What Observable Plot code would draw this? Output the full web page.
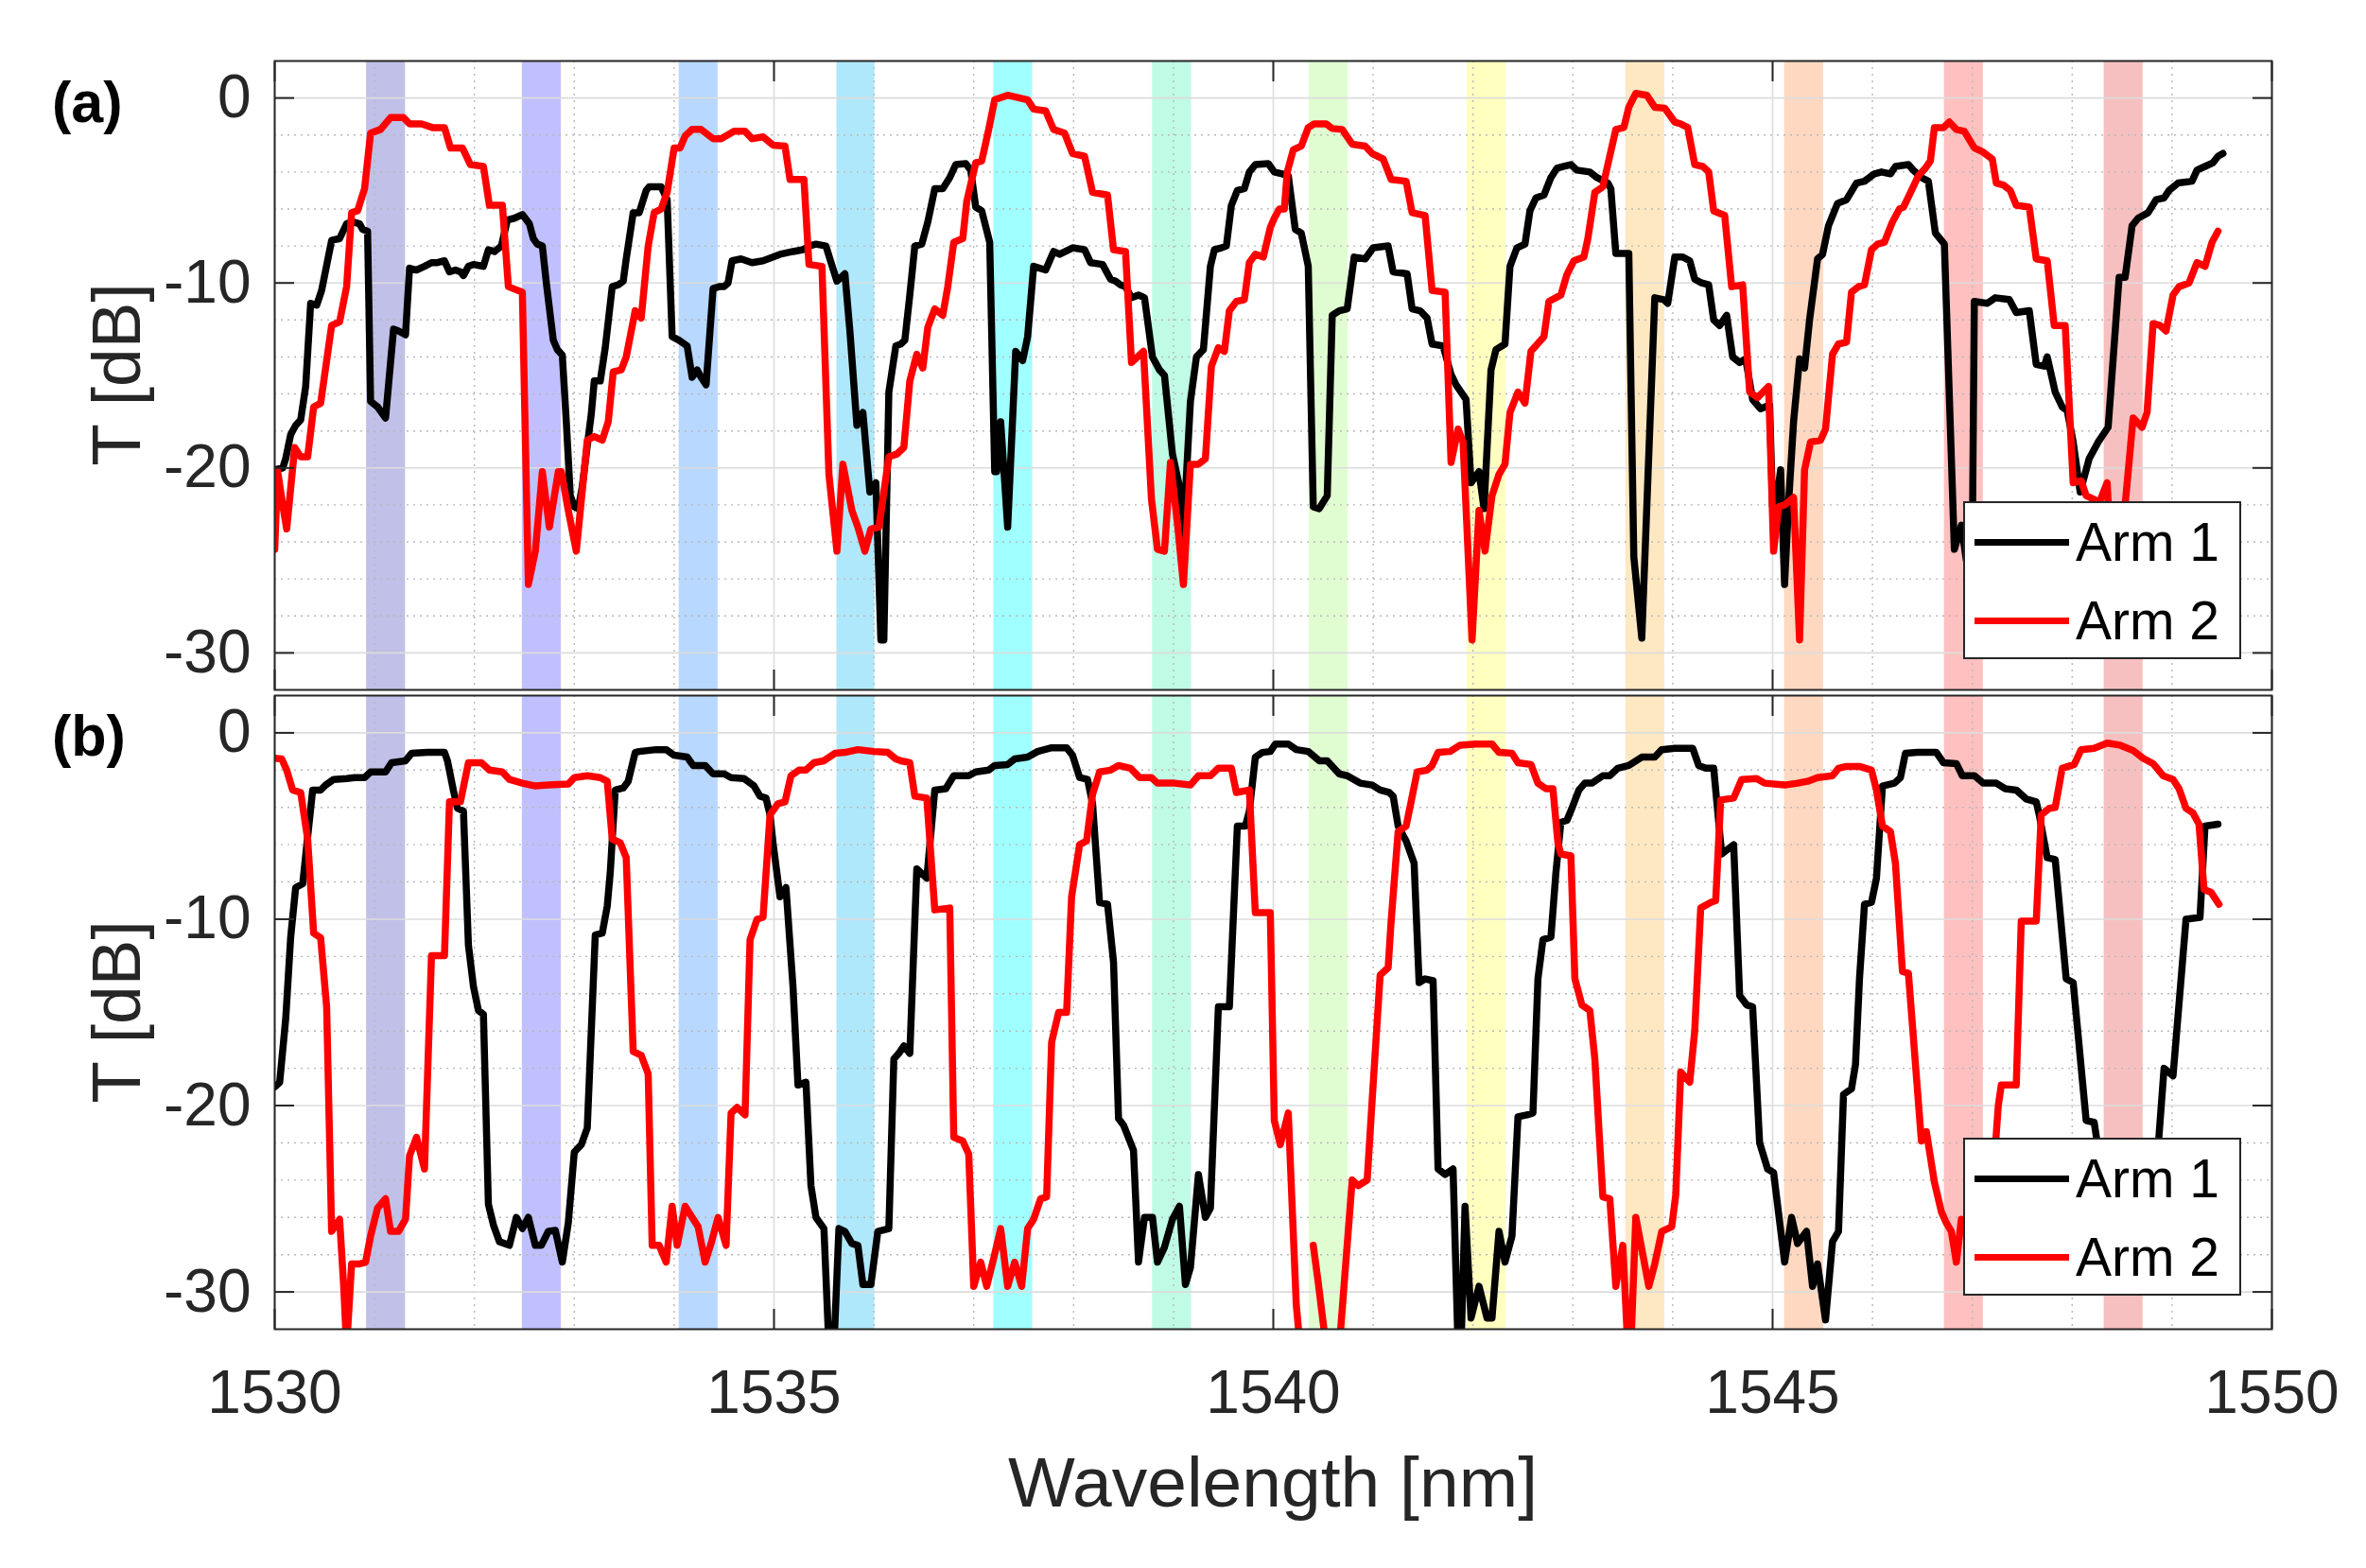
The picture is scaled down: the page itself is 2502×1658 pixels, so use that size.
<!DOCTYPE html>
<html>
<head>
<meta charset="utf-8">
<script src="https://cdn.jsdelivr.net/npm/d3@7"></script>
<script src="https://cdn.jsdelivr.net/npm/@observablehq/plot@0.6"></script>
<style>
html, body { margin: 0; padding: 0; background: #fff; }
#chart { position: relative; width: 2502px; height: 1658px; background: #fff; overflow: hidden;
  font-family: "Liberation Sans", Arial, Helvetica, sans-serif; color: #262626; }
#chart svg { position: absolute; left: 0; overflow: visible; }
.lbl { position: absolute; white-space: nowrap; line-height: 1; }
.legend { position: absolute; left: 2076px; width: 294px; height: 167px; border: 2px solid #262626;
  background: #fff; box-sizing: border-box; }
.legend .ln { position: absolute; left: 10px; width: 100px; height: 7px; }
.legend .tx { position: absolute; left: 117px; font-size: 57px; line-height: 57px; color: #000; white-space: nowrap; }
</style>
</head>
<body>
<div id="chart"></div>
<script>
// ---------- axis ticks ----------
const xTicks = [1530, 1535, 1540, 1545, 1550];
const yTicks = [-30, -20, -10, 0];
const xMinor = [1531, 1532, 1533, 1534, 1536, 1537, 1538, 1539, 1541, 1542, 1543, 1544, 1546, 1547, 1548, 1549];
const yMinor = [-28, -26, -24, -22, -18, -16, -14, -12, -8, -6, -4, -2];
const xDomain = [1530, 1550];
const yDomain = [-32, 2];

// ---------- channel bands ----------
const bandStart = [1530.92, 1532.48, 1534.05, 1535.63, 1537.20, 1538.79, 1540.36, 1541.94, 1543.53, 1545.12, 1546.72, 1548.32];
const bandEnd   = [1531.31, 1532.87, 1534.44, 1536.01, 1537.59, 1539.18, 1540.75, 1542.33, 1543.92, 1545.51, 1547.11, 1548.71];
const bandColor = ["#c0c0e8", "#c0c0ff", "#b8d8ff", "#b0e8fb", "#a0ffff", "#c0fbe6", "#e0fdd2", "#ffffc0", "#fee8c2", "#fed8c0", "#ffc0c0", "#f7c0c0"];

// ---------- panel (a) ----------
const a_arm1 = [
[1530.00,-20.1],[1530.08,-20.0],[1530.11,-19.5],[1530.16,-18.2],[1530.21,-17.7],[1530.26,-17.4],[1530.31,-15.6],[1530.36,-11.1],
[1530.42,-11.2],[1530.47,-10.4],[1530.57,-7.7],[1530.65,-7.6],[1530.72,-6.8],[1530.78,-6.7],[1530.85,-6.8],[1530.88,-7.1],
[1530.93,-7.2],[1530.96,-16.4],[1531.03,-16.7],[1531.11,-17.3],[1531.19,-12.5],[1531.24,-12.6],[1531.31,-12.8],[1531.35,-9.2],
[1531.42,-9.3],[1531.50,-9.1],[1531.57,-8.9],[1531.63,-8.9],[1531.70,-8.8],[1531.75,-9.4],[1531.81,-9.3],[1531.86,-9.4],
[1531.89,-9.6],[1531.94,-9.1],[1531.99,-9.0],[1532.09,-9.1],[1532.14,-8.2],[1532.20,-8.3],[1532.27,-8.0],[1532.33,-6.6],
[1532.40,-6.5],[1532.48,-6.3],[1532.55,-6.8],[1532.59,-7.6],[1532.63,-7.9],[1532.68,-8.0],[1532.72,-10.0],[1532.79,-13.1],
[1532.83,-13.6],[1532.88,-13.9],[1532.92,-17.5],[1532.96,-21.5],[1533.00,-22.1],[1533.04,-22.2],[1533.08,-21.0],[1533.13,-18.8],
[1533.17,-17.1],[1533.20,-15.3],[1533.26,-15.3],[1533.31,-13.5],[1533.38,-10.2],[1533.44,-10.1],[1533.49,-9.9],[1533.52,-8.7],
[1533.59,-6.2],[1533.65,-6.2],[1533.72,-5.0],[1533.75,-4.8],[1533.87,-4.8],[1533.93,-5.5],[1533.98,-12.9],[1534.05,-13.1],
[1534.13,-13.4],[1534.18,-15.1],[1534.23,-14.7],[1534.27,-15.1],[1534.32,-15.5],[1534.39,-10.3],[1534.45,-10.2],[1534.50,-10.2],
[1534.54,-10.0],[1534.58,-8.8],[1534.67,-8.7],[1534.78,-8.9],[1534.89,-8.8],[1535.06,-8.45],[1535.19,-8.3],[1535.29,-8.2],
[1535.35,-8.0],[1535.42,-7.9],[1535.52,-8.0],[1535.56,-8.7],[1535.63,-9.9],[1535.71,-9.5],[1535.76,-12.6],[1535.83,-17.7],
[1535.89,-17.0],[1535.96,-21.3],[1536.02,-20.8],[1536.07,-29.3],[1536.10,-29.3],[1536.15,-15.9],[1536.22,-13.4],[1536.27,-13.3],
[1536.31,-13.1],[1536.36,-10.65],[1536.41,-8.0],[1536.48,-7.9],[1536.54,-6.7],[1536.61,-4.9],[1536.69,-4.9],[1536.76,-4.3],
[1536.82,-3.6],[1536.92,-3.55],[1536.97,-3.9],[1537.02,-5.9],[1537.08,-6.1],[1537.16,-7.8],[1537.21,-20.2],[1537.23,-20.2],
[1537.27,-17.5],[1537.34,-23.2],[1537.42,-13.7],[1537.49,-14.2],[1537.54,-12.9],[1537.60,-9.1],[1537.72,-9.3],[1537.80,-8.3],
[1537.86,-8.45],[1537.99,-8.1],[1538.11,-8.2],[1538.17,-8.9],[1538.29,-9.0],[1538.37,-9.8],[1538.42,-9.9],[1538.47,-10.1],
[1538.52,-10.2],[1538.58,-10.8],[1538.65,-10.65],[1538.71,-10.8],[1538.79,-14.0],[1538.86,-14.7],[1538.91,-15.0],[1538.99,-19.25],
[1539.06,-21.0],[1539.09,-24.4],[1539.17,-16.4],[1539.23,-14.0],[1539.30,-13.6],[1539.37,-9.1],[1539.41,-8.2],[1539.48,-8.1],
[1539.53,-8.0],[1539.58,-5.8],[1539.64,-5.0],[1539.71,-4.9],[1539.76,-4.0],[1539.82,-3.6],[1539.95,-3.55],[1540.01,-4.0],
[1540.09,-4.1],[1540.15,-4.2],[1540.22,-7.1],[1540.28,-7.3],[1540.35,-9.1],[1540.40,-22.1],[1540.46,-22.2],[1540.54,-21.5],
[1540.59,-11.75],[1540.66,-11.5],[1540.74,-11.4],[1540.81,-8.6],[1540.92,-8.7],[1541.00,-8.1],[1541.15,-8.0],[1541.20,-9.4],
[1541.34,-9.5],[1541.39,-11.4],[1541.47,-11.5],[1541.54,-11.9],[1541.59,-13.3],[1541.70,-13.4],[1541.78,-14.95],[1541.83,-15.5],
[1541.93,-16.3],[1541.98,-20.8],[1542.06,-20.2],[1542.11,-22.2],[1542.18,-14.7],[1542.23,-13.6],[1542.32,-13.3],[1542.37,-9.1],
[1542.44,-8.1],[1542.52,-7.9],[1542.57,-6.1],[1542.63,-5.4],[1542.71,-5.25],[1542.78,-4.3],[1542.84,-3.8],[1542.91,-3.7],
[1542.98,-3.6],[1543.04,-3.9],[1543.17,-4.0],[1543.24,-4.3],[1543.35,-4.6],[1543.38,-4.9],[1543.43,-8.4],[1543.56,-8.4],
[1543.61,-24.8],[1543.69,-29.2],[1543.82,-10.8],[1543.91,-10.9],[1543.95,-11.1],[1544.02,-8.6],[1544.10,-8.6],[1544.17,-8.8],
[1544.22,-9.8],[1544.29,-10.0],[1544.36,-10.1],[1544.41,-12.0],[1544.47,-12.3],[1544.54,-11.75],[1544.60,-14.0],[1544.67,-14.3],
[1544.73,-14.1],[1544.80,-16.3],[1544.88,-16.8],[1544.97,-16.6],[1545.00,-22.1],[1545.03,-22.2],[1545.08,-20.1],[1545.12,-26.3],
[1545.16,-21.9],[1545.21,-17.5],[1545.27,-14.1],[1545.32,-14.6],[1545.37,-12.0],[1545.45,-8.7],[1545.50,-8.45],[1545.56,-6.9],
[1545.65,-5.7],[1545.74,-5.5],[1545.84,-4.6],[1545.92,-4.5],[1546.02,-4.1],[1546.09,-4.0],[1546.18,-4.1],[1546.23,-3.7],
[1546.36,-3.6],[1546.41,-3.9],[1546.49,-4.3],[1546.56,-4.5],[1546.63,-7.3],[1546.72,-7.9],[1546.82,-24.4],[1546.89,-23.1],
[1546.94,-25.0],[1547.00,-24.0],[1547.02,-11.0],[1547.15,-11.1],[1547.23,-10.8],[1547.37,-10.9],[1547.44,-11.6],[1547.57,-11.5],
[1547.64,-14.4],[1547.72,-14.5],[1547.75,-14.0],[1547.83,-15.9],[1547.90,-16.7],[1547.95,-16.9],[1548.01,-18.6],[1548.08,-21.3],
[1548.17,-19.5],[1548.26,-18.6],[1548.36,-17.8],[1548.47,-9.7],[1548.53,-9.7],[1548.60,-6.9],[1548.66,-6.5],[1548.76,-6.2],
[1548.84,-5.5],[1548.92,-5.4],[1548.97,-5.0],[1549.06,-4.6],[1549.20,-4.5],[1549.25,-3.9],[1549.33,-3.7],[1549.41,-3.5],
[1549.46,-3.15],[1549.51,-3.0]
];

const a_arm2 = [
[1530.00,-24.4],[1530.03,-20.2],[1530.08,-22.0],[1530.12,-23.3],[1530.20,-18.9],[1530.26,-19.4],[1530.33,-19.4],[1530.39,-16.7],
[1530.46,-16.5],[1530.57,-12.3],[1530.65,-12.1],[1530.72,-10.2],[1530.77,-6.2],[1530.83,-6.1],[1530.90,-4.9],[1530.96,-1.9],
[1531.06,-1.7],[1531.16,-1.06],[1531.29,-1.06],[1531.35,-1.4],[1531.47,-1.4],[1531.58,-1.6],[1531.70,-1.6],[1531.76,-2.7],
[1531.88,-2.7],[1531.96,-3.6],[1532.09,-3.7],[1532.15,-5.8],[1532.28,-5.8],[1532.34,-10.2],[1532.48,-10.5],[1532.54,-26.3],
[1532.61,-24.5],[1532.68,-20.2],[1532.75,-23.2],[1532.84,-20.2],[1532.87,-20.2],[1532.94,-22.3],[1533.02,-24.5],[1533.13,-18.5],
[1533.20,-18.3],[1533.28,-18.5],[1533.34,-17.5],[1533.39,-14.8],[1533.47,-14.7],[1533.52,-14.0],[1533.61,-11.5],[1533.67,-11.9],
[1533.74,-8.0],[1533.80,-6.2],[1533.87,-6.0],[1533.93,-5.1],[1534.00,-2.7],[1534.06,-2.7],[1534.11,-2.05],[1534.18,-1.7],
[1534.27,-1.7],[1534.39,-2.2],[1534.47,-2.2],[1534.60,-1.8],[1534.71,-1.8],[1534.78,-2.2],[1534.89,-2.1],[1534.99,-2.55],
[1535.11,-2.6],[1535.16,-4.4],[1535.30,-4.4],[1535.35,-9.0],[1535.48,-9.1],[1535.55,-20.35],[1535.63,-24.5],[1535.69,-19.8],
[1535.78,-22.3],[1535.84,-23.2],[1535.91,-24.5],[1535.97,-23.3],[1536.05,-23.2],[1536.15,-19.4],[1536.23,-19.25],[1536.30,-18.9],
[1536.36,-15.3],[1536.43,-13.85],[1536.49,-14.6],[1536.54,-12.4],[1536.61,-11.4],[1536.69,-11.75],[1536.74,-10.2],[1536.80,-7.8],
[1536.89,-7.6],[1536.93,-5.6],[1537.02,-3.5],[1537.08,-3.4],[1537.15,-1.7],[1537.21,-0.1],[1537.34,0.15],[1537.54,-0.1],
[1537.60,-0.6],[1537.72,-0.7],[1537.80,-1.7],[1537.91,-1.9],[1537.99,-3.0],[1538.11,-3.15],[1538.19,-5.1],[1538.34,-5.25],
[1538.40,-8.2],[1538.52,-8.3],[1538.58,-14.3],[1538.70,-13.7],[1538.78,-21.7],[1538.84,-24.4],[1538.91,-24.5],[1538.97,-19.7],
[1539.04,-23.0],[1539.10,-26.3],[1539.17,-19.8],[1539.25,-19.8],[1539.32,-19.5],[1539.38,-14.5],[1539.45,-13.5],[1539.51,-13.7],
[1539.56,-11.5],[1539.63,-11.0],[1539.71,-10.9],[1539.76,-8.9],[1539.82,-8.45],[1539.90,-8.6],[1539.97,-7.0],[1540.01,-6.5],
[1540.06,-6.0],[1540.11,-6.0],[1540.14,-4.0],[1540.20,-2.8],[1540.28,-2.6],[1540.35,-1.6],[1540.41,-1.4],[1540.53,-1.4],
[1540.59,-1.65],[1540.69,-1.7],[1540.79,-2.5],[1540.92,-2.6],[1540.99,-3.0],[1541.10,-3.3],[1541.18,-4.4],[1541.33,-4.5],
[1541.39,-6.2],[1541.52,-6.35],[1541.59,-10.4],[1541.72,-10.5],[1541.78,-19.7],[1541.85,-17.9],[1541.90,-18.6],[1541.99,-29.3],
[1542.06,-22.3],[1542.12,-24.5],[1542.19,-21.5],[1542.26,-20.35],[1542.32,-19.8],[1542.37,-17.0],[1542.45,-15.9],[1542.52,-16.5],
[1542.58,-13.7],[1542.71,-12.9],[1542.76,-11.0],[1542.88,-10.65],[1542.94,-9.55],[1543.01,-8.8],[1543.11,-8.6],[1543.15,-7.6],
[1543.22,-5.1],[1543.30,-4.8],[1543.35,-3.6],[1543.43,-1.7],[1543.51,-1.6],[1543.56,-0.5],[1543.63,0.25],[1543.74,0.15],
[1543.82,-0.5],[1543.92,-0.55],[1544.02,-1.3],[1544.08,-1.4],[1544.15,-1.6],[1544.22,-3.6],[1544.30,-3.7],[1544.36,-4.0],
[1544.41,-6.1],[1544.52,-6.35],[1544.59,-10.2],[1544.70,-10.1],[1544.77,-15.9],[1544.85,-16.2],[1544.96,-15.6],[1545.01,-24.5],
[1545.06,-22.1],[1545.12,-22.0],[1545.21,-21.6],[1545.27,-29.3],[1545.32,-20.1],[1545.38,-18.6],[1545.48,-18.5],[1545.53,-17.9],
[1545.60,-13.85],[1545.66,-13.3],[1545.74,-13.2],[1545.79,-10.5],[1545.86,-10.2],[1545.92,-10.1],[1545.99,-8.2],[1546.05,-7.9],
[1546.12,-7.8],[1546.20,-6.7],[1546.27,-6.0],[1546.31,-5.9],[1546.40,-4.9],[1546.46,-4.2],[1546.53,-3.8],[1546.58,-3.4],
[1546.62,-1.6],[1546.71,-1.6],[1546.77,-1.3],[1546.84,-1.7],[1546.92,-1.8],[1547.02,-2.7],[1547.10,-2.9],[1547.20,-3.3],
[1547.24,-4.6],[1547.31,-4.7],[1547.38,-5.0],[1547.44,-5.8],[1547.57,-5.9],[1547.64,-8.7],[1547.75,-8.8],[1547.82,-12.3],
[1547.93,-12.3],[1548.01,-20.8],[1548.09,-20.7],[1548.14,-21.5],[1548.22,-21.7],[1548.27,-21.9],[1548.35,-20.8],[1548.38,-24.0],
[1548.45,-25.5],[1548.53,-22.0],[1548.61,-17.3],[1548.70,-17.8],[1548.75,-17.0],[1548.81,-12.2],[1548.88,-12.3],[1548.94,-12.6],
[1549.01,-10.65],[1549.07,-10.2],[1549.17,-10.0],[1549.25,-8.9],[1549.33,-9.1],[1549.40,-7.8],[1549.46,-7.2]
];

// ---------- panel (b) ----------
const b_arm1 = [
[1530.00,-19.0],[1530.05,-18.75],[1530.11,-15.35],[1530.16,-10.96],[1530.21,-8.3],[1530.28,-8.1],[1530.31,-6.6],[1530.38,-3.07],
[1530.46,-3.07],[1530.51,-2.8],[1530.59,-2.5],[1530.72,-2.45],[1530.80,-2.4],[1530.90,-2.4],[1530.96,-2.1],[1531.11,-2.1],
[1531.17,-1.6],[1531.31,-1.5],[1531.37,-1.1],[1531.53,-1.05],[1531.70,-1.05],[1531.73,-1.5],[1531.79,-3.1],[1531.83,-4.05],
[1531.89,-4.2],[1531.94,-11.4],[1531.99,-13.6],[1532.04,-14.9],[1532.09,-15.1],[1532.14,-25.3],[1532.19,-26.4],[1532.25,-27.3],
[1532.35,-27.5],[1532.42,-26.0],[1532.48,-26.6],[1532.54,-26.0],[1532.61,-27.5],[1532.67,-27.5],[1532.74,-26.75],[1532.81,-26.7],
[1532.88,-28.4],[1532.94,-26.3],[1533.00,-22.5],[1533.07,-22.1],[1533.13,-21.2],[1533.21,-10.85],[1533.28,-10.75],[1533.33,-9.3],
[1533.36,-7.5],[1533.41,-3.07],[1533.49,-2.96],[1533.54,-2.6],[1533.61,-1.05],[1533.65,-1.0],[1533.82,-0.9],[1533.92,-0.9],
[1534.00,-1.2],[1534.13,-1.3],[1534.19,-1.75],[1534.31,-1.75],[1534.39,-2.2],[1534.50,-2.2],[1534.57,-2.4],[1534.70,-2.45],
[1534.80,-2.85],[1534.86,-3.4],[1534.92,-3.5],[1534.96,-4.4],[1534.99,-5.9],[1535.06,-8.8],[1535.12,-8.3],[1535.19,-13.6],
[1535.24,-18.9],[1535.32,-18.75],[1535.37,-24.3],[1535.42,-26.0],[1535.50,-26.6],[1535.55,-33],[1535.60,-33],[1535.65,-26.6],
[1535.71,-26.75],[1535.78,-27.4],[1535.84,-27.5],[1535.89,-29.6],[1535.97,-29.6],[1536.04,-26.75],[1536.15,-26.6],[1536.20,-17.5],
[1536.25,-17.2],[1536.30,-16.8],[1536.36,-17.2],[1536.43,-7.3],[1536.53,-7.8],[1536.61,-3.07],[1536.72,-3.0],[1536.80,-2.3],
[1536.95,-2.3],[1537.02,-2.1],[1537.15,-2.0],[1537.21,-1.75],[1537.34,-1.7],[1537.41,-1.4],[1537.54,-1.3],[1537.64,-1.0],
[1537.78,-0.8],[1537.93,-0.8],[1537.99,-1.2],[1538.06,-2.4],[1538.14,-2.5],[1538.19,-3.8],[1538.26,-9.1],[1538.34,-9.2],
[1538.40,-12.3],[1538.45,-20.7],[1538.50,-21.05],[1538.60,-22.4],[1538.65,-28.4],[1538.71,-26.0],[1538.79,-26.0],[1538.84,-28.4],
[1538.91,-27.6],[1538.99,-26.1],[1539.06,-25.4],[1539.12,-29.6],[1539.17,-28.7],[1539.25,-23.7],[1539.32,-26.0],[1539.37,-25.5],
[1539.45,-14.7],[1539.56,-14.7],[1539.64,-5.0],[1539.72,-5.0],[1539.76,-4.2],[1539.82,-1.3],[1539.89,-1.05],[1539.97,-1.0],
[1540.02,-0.6],[1540.15,-0.6],[1540.23,-0.9],[1540.35,-1.0],[1540.46,-1.5],[1540.54,-1.5],[1540.66,-2.2],[1540.74,-2.3],
[1540.87,-2.7],[1540.99,-2.8],[1541.07,-3.07],[1541.16,-3.2],[1541.20,-3.4],[1541.25,-5.0],[1541.33,-5.8],[1541.41,-7.0],
[1541.46,-13.4],[1541.52,-13.2],[1541.60,-13.3],[1541.65,-23.4],[1541.72,-23.7],[1541.80,-23.4],[1541.85,-33],[1541.88,-33],
[1541.92,-25.4],[1541.98,-31.4],[1542.06,-29.7],[1542.14,-31.4],[1542.19,-31.4],[1542.26,-26.75],[1542.32,-28.4],[1542.39,-27.0],
[1542.45,-20.6],[1542.54,-20.5],[1542.60,-20.4],[1542.65,-13.2],[1542.70,-11.1],[1542.78,-10.96],[1542.83,-7.5],[1542.88,-4.8],
[1542.94,-4.7],[1542.99,-4.05],[1543.06,-3.07],[1543.12,-2.7],[1543.19,-2.7],[1543.30,-2.3],[1543.37,-2.3],[1543.45,-1.9],
[1543.56,-1.75],[1543.69,-1.3],[1543.82,-1.3],[1543.89,-0.9],[1544.02,-0.83],[1544.20,-0.83],[1544.26,-1.75],[1544.33,-1.9],
[1544.41,-1.9],[1544.49,-6.5],[1544.61,-6.0],[1544.67,-14.1],[1544.74,-14.6],[1544.80,-14.7],[1544.87,-22.0],[1544.95,-23.4],
[1545.01,-23.6],[1545.12,-28.4],[1545.19,-26.0],[1545.25,-27.4],[1545.34,-26.75],[1545.40,-29.7],[1545.45,-28.5],[1545.53,-31.5],
[1545.60,-27.3],[1545.66,-26.75],[1545.71,-19.4],[1545.79,-19.1],[1545.83,-17.8],[1545.87,-13.2],[1545.92,-9.2],[1545.99,-9.1],
[1546.04,-7.8],[1546.10,-2.85],[1546.22,-2.7],[1546.28,-2.4],[1546.33,-1.1],[1546.45,-1.05],[1546.64,-1.05],[1546.71,-1.6],
[1546.84,-1.65],[1546.90,-2.3],[1547.02,-2.3],[1547.11,-2.7],[1547.24,-2.7],[1547.33,-3.0],[1547.44,-3.07],[1547.54,-3.55],
[1547.64,-3.7],[1547.67,-4.4],[1547.75,-6.7],[1547.83,-6.8],[1547.94,-13.2],[1548.01,-13.4],[1548.14,-20.8],[1548.22,-20.9],
[1548.35,-25.5],[1548.50,-26.5],[1548.70,-26.0],[1548.85,-23.0],[1548.92,-18.0],[1549.01,-18.4],[1549.14,-10.0],[1549.28,-9.9],
[1549.33,-5.0],[1549.46,-4.9]
];

const b_arm2 = [
[1530.00,-1.36],[1530.07,-1.4],[1530.12,-2.0],[1530.18,-3.07],[1530.26,-3.2],[1530.33,-5.7],[1530.39,-10.75],[1530.46,-11.0],
[1530.52,-14.7],[1530.57,-26.75],[1530.65,-26.1],[1530.69,-29.6],[1530.72,-33],[1530.77,-28.5],[1530.85,-28.5],[1530.91,-28.4],
[1530.96,-27.0],[1531.03,-25.5],[1531.11,-25.0],[1531.16,-26.75],[1531.24,-26.75],[1531.31,-26.1],[1531.35,-22.7],[1531.42,-21.7],
[1531.50,-23.4],[1531.57,-11.95],[1531.70,-11.95],[1531.75,-3.7],[1531.86,-3.7],[1531.94,-1.6],[1532.07,-1.6],[1532.15,-2.0],
[1532.28,-2.1],[1532.35,-2.5],[1532.48,-2.7],[1532.61,-2.85],[1532.74,-2.8],[1532.94,-2.75],[1533.00,-2.4],[1533.13,-2.3],
[1533.26,-2.4],[1533.33,-2.6],[1533.38,-5.7],[1533.46,-5.9],[1533.52,-6.7],[1533.59,-17.1],[1533.67,-17.3],[1533.74,-18.3],
[1533.78,-27.5],[1533.85,-27.5],[1533.92,-28.4],[1533.98,-25.4],[1534.03,-27.5],[1534.11,-25.4],[1534.18,-26.0],[1534.24,-26.5],
[1534.31,-28.4],[1534.37,-27.4],[1534.44,-26.0],[1534.52,-27.5],[1534.57,-20.4],[1534.63,-20.1],[1534.71,-20.5],[1534.76,-11.1],
[1534.83,-10.0],[1534.89,-9.9],[1534.96,-4.4],[1535.04,-3.8],[1535.11,-3.7],[1535.17,-2.3],[1535.25,-2.0],[1535.32,-2.0],
[1535.40,-1.6],[1535.50,-1.5],[1535.61,-1.1],[1535.71,-1.05],[1535.84,-0.9],[1536.00,-1.0],[1536.14,-1.05],[1536.22,-1.4],
[1536.27,-1.5],[1536.36,-1.6],[1536.41,-3.4],[1536.53,-3.5],[1536.61,-9.5],[1536.76,-9.4],[1536.80,-21.7],[1536.89,-21.9],
[1536.95,-22.6],[1537.00,-29.7],[1537.07,-28.4],[1537.13,-29.7],[1537.20,-28.2],[1537.27,-26.6],[1537.34,-29.7],[1537.41,-28.4],
[1537.48,-29.7],[1537.54,-26.6],[1537.60,-26.1],[1537.67,-25.0],[1537.73,-24.9],[1537.78,-16.6],[1537.85,-15.0],[1537.93,-15.0],
[1537.98,-8.8],[1538.06,-6.0],[1538.13,-5.8],[1538.19,-3.3],[1538.26,-2.1],[1538.37,-2.0],[1538.45,-1.75],[1538.57,-1.9],
[1538.66,-2.4],[1538.78,-2.4],[1538.84,-2.7],[1539.01,-2.7],[1539.17,-2.8],[1539.25,-2.3],[1539.37,-2.3],[1539.45,-1.9],
[1539.58,-1.9],[1539.63,-3.2],[1539.76,-3.07],[1539.82,-9.65],[1539.97,-9.65],[1540.01,-20.8],[1540.07,-22.1],[1540.15,-20.4],
[1540.23,-30.7],[1540.27,-33],[1540.33,NaN],[1540.40,-27.5],[1540.45,-29.5],[1540.53,-33],[1540.60,NaN],[1540.66,-33],
[1540.79,-24.0],[1540.85,-24.3],[1540.94,-24.0],[1540.99,-19.7],[1541.07,-13.0],[1541.15,-12.6],[1541.18,-10.1],[1541.25,-5.3],
[1541.33,-5.0],[1541.38,-3.7],[1541.44,-2.1],[1541.54,-2.0],[1541.59,-1.75],[1541.65,-1.05],[1541.77,-1.0],[1541.87,-0.66],
[1542.03,-0.6],[1542.19,-0.6],[1542.26,-1.05],[1542.39,-1.1],[1542.45,-1.6],[1542.58,-1.7],[1542.65,-2.7],[1542.73,-3.0],
[1542.80,-3.0],[1542.85,-5.9],[1542.88,-6.5],[1542.98,-6.6],[1543.02,-13.2],[1543.09,-14.6],[1543.17,-14.9],[1543.22,-17.5],
[1543.30,-24.9],[1543.37,-25.0],[1543.43,-29.7],[1543.50,-27.5],[1543.55,-33],[1543.58,-33],[1543.63,-26.0],[1543.69,-27.7],
[1543.76,-29.7],[1543.82,-28.5],[1543.89,-26.75],[1543.99,-26.5],[1544.03,-24.8],[1544.08,-18.2],[1544.17,-18.75],[1544.22,-16.0],
[1544.28,-9.4],[1544.38,-9.1],[1544.43,-9.0],[1544.48,-3.6],[1544.61,-3.5],[1544.69,-2.5],[1544.84,-2.45],[1544.92,-2.7],
[1545.12,-2.8],[1545.25,-2.7],[1545.35,-2.6],[1545.45,-2.4],[1545.60,-2.3],[1545.66,-1.9],[1545.74,-1.8],[1545.87,-1.8],
[1545.99,-2.0],[1546.04,-3.07],[1546.10,-5.0],[1546.18,-5.3],[1546.23,-7.0],[1546.30,-12.8],[1546.36,-12.9],[1546.49,-21.9],
[1546.54,-21.4],[1546.62,-24.1],[1546.69,-25.7],[1546.74,-26.3],[1546.79,-26.75],[1546.84,-28.4],[1546.89,-26.1],[1546.95,-26.5],
[1547.05,-27.0],[1547.18,-26.0],[1547.26,-20.0],[1547.29,-18.9],[1547.44,-18.9],[1547.49,-10.1],[1547.64,-10.1],[1547.69,-4.4],
[1547.77,-4.05],[1547.83,-4.0],[1547.90,-1.9],[1548.02,-1.7],[1548.09,-0.9],[1548.22,-0.83],[1548.35,-0.55],[1548.48,-0.66],
[1548.61,-0.95],[1548.71,-1.36],[1548.81,-1.65],[1548.91,-2.3],[1549.01,-2.5],[1549.07,-3.0],[1549.14,-4.05],[1549.21,-4.3],
[1549.27,-4.9],[1549.32,-8.4],[1549.39,-8.55],[1549.47,-9.2]
];

// ---------- drawing ----------
const W = 2502;
const FONT = '"Liberation Sans", Arial, Helvetica, sans-serif';
const INK = "#262626";
const LW = 7.5;
const bandIdx = bandStart.map((_, i) => i);

function panel(arm1, arm2, {height, marginTop, marginBottom, showX}) {
  return Plot.plot({
    width: W,
    height,
    marginLeft: 290,
    marginRight: 100,
    marginTop,
    marginBottom,
    x: {domain: xDomain},
    y: {domain: yDomain},
    color: {type: "identity"},
    style: {fontFamily: FONT, color: INK, background: "transparent", overflow: "visible"},
    marks: [
      Plot.rect(bandIdx, {x1: i => bandStart[i], x2: i => bandEnd[i], y1: () => yDomain[0], y2: () => yDomain[1], fill: i => bandColor[i]}),
      Plot.ruleY(yMinor, {stroke: "#b8b8b8", strokeWidth: 1.4, strokeDasharray: "2,5"}),
      Plot.ruleX(xMinor, {stroke: "#b8b8b8", strokeWidth: 1.4, strokeDasharray: "2,5"}),
      Plot.ruleY(yTicks, {stroke: "#dcdcdc", strokeWidth: 1.6}),
      Plot.ruleX(xTicks, {stroke: "#dcdcdc", strokeWidth: 1.6}),
      Plot.line(arm1, {x: d => d[0], y: d => d[1], stroke: "#000000", strokeWidth: LW, strokeLinejoin: "round", clip: true}),
      Plot.line(arm2, {x: d => d[0], y: d => d[1], stroke: "#ff0000", strokeWidth: LW, strokeLinejoin: "round", clip: true}),
      // tick labels (y)
      Plot.axisY(yTicks, {anchor: "left", tickSize: 0, tickPadding: 25, fontSize: 64, tickFormat: d => String(d), label: null}),
      // inward tick marks on all four sides
      Plot.axisY(yTicks, {anchor: "left", tickSize: 21, dx: 21, strokeWidth: 2, tickFormat: () => "", label: null}),
      Plot.axisY(yTicks, {anchor: "right", tickSize: 21, dx: -21, strokeWidth: 2, tickFormat: () => "", label: null}),
      Plot.axisX(xTicks, {anchor: "bottom", tickSize: 21, dy: -21, strokeWidth: 2, tickFormat: () => "", label: null}),
      Plot.axisX(xTicks, {anchor: "top", tickSize: 21, dy: 21, strokeWidth: 2, tickFormat: () => "", label: null}),
      showX ? Plot.axisX(xTicks, {anchor: "bottom", tickSize: 0, tickPadding: 43, fontSize: 64, tickFormat: d => String(d), label: null}) : null,
      Plot.frame({stroke: INK, strokeWidth: 2})
    ]
  });
}

const chart = document.getElementById("chart");

const svgA = panel(a_arm1, a_arm2, {height: 735, marginTop: 64, marginBottom: 6, showX: false});
svgA.style.top = "0px";
chart.appendChild(svgA);

const svgB = panel(b_arm1, b_arm2, {height: 933, marginTop: 10, marginBottom: 253, showX: true});
svgB.style.top = "725px";
chart.appendChild(svgB);

function addText(txt, css) {
  const d = document.createElement("div");
  d.className = "lbl";
  d.textContent = txt;
  Object.assign(d.style, css);
  chart.appendChild(d);
  return d;
}

// panel letters
addText("(a)", {left: "55px", top: "78px", fontSize: "61px", fontWeight: "bold", color: "#000"});
addText("(b)", {left: "55px", top: "748px", fontSize: "61px", fontWeight: "bold", color: "#000"});

// y-axis titles (rotated)
for (const cy of [396, 1070]) {
  addText("T [dB]", {left: "122px", top: cy + "px", fontSize: "73px", transform: "translate(-50%,-50%) rotate(-90deg)", transformOrigin: "50% 50%"});
}
// x-axis title
addText("Wavelength [nm]", {left: "1346px", top: "1530px", fontSize: "75px", transform: "translateX(-50%)"});

// legends
function legend(top) {
  const box = document.createElement("div");
  box.className = "legend";
  box.style.top = top + "px";
  const rows = [["Arm 1", "#000000", 41], ["Arm 2", "#ff0000", 124]];
  for (const [name, col, cy] of rows) {
    const ln = document.createElement("div");
    ln.className = "ln";
    ln.style.top = (cy - 3.5) + "px";
    ln.style.background = col;
    box.appendChild(ln);
    const tx = document.createElement("div");
    tx.className = "tx";
    tx.textContent = name;
    tx.style.top = (cy - 28) + "px";
    box.appendChild(tx);
  }
  chart.appendChild(box);
}
legend(530);
legend(1203);
</script>
</body>
</html>
